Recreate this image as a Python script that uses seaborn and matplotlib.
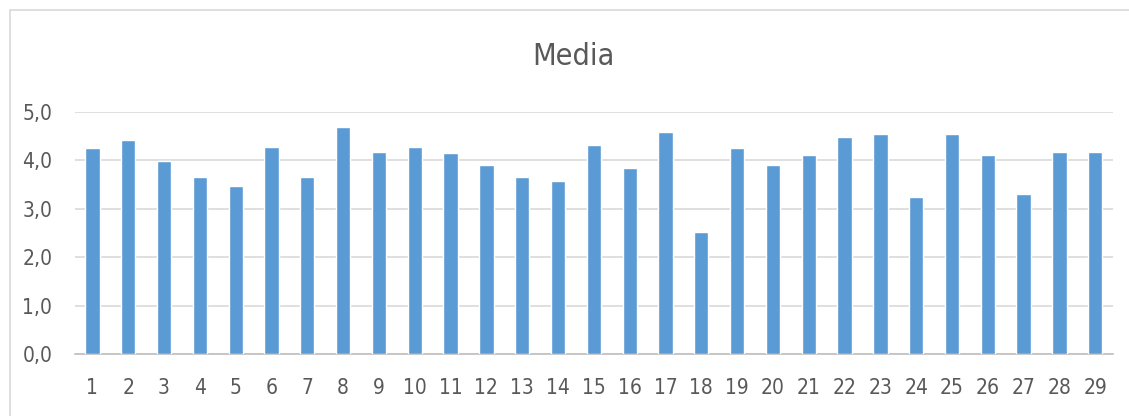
import matplotlib
matplotlib.use("Agg")
import matplotlib.pyplot as plt
import seaborn as sns
import pandas as pd
from matplotlib.patches import Rectangle

# Datos
items = [str(i) for i in range(1, 30)]
media = [4.25, 4.41, 3.98, 3.65, 3.48, 4.28, 3.65, 4.68, 4.18, 4.28,
         4.15, 3.91, 3.65, 3.58, 4.31, 3.84, 4.58, 2.52, 4.25, 3.91,
         4.11, 4.48, 4.55, 3.25, 4.55, 4.11, 3.31, 4.18, 4.18]
yticks = [0, 1, 2, 3, 4, 5]
ytick_labels = ["0,0", "1,0", "2,0", "3,0", "4,0", "5,0"]

df = pd.DataFrame({"item": items, "media": media})

sns.set_style("white")
plt.rcParams['font.family'] = ['DejaVu Sans']
plt.rcParams['font.stretch'] = 'condensed'

fig = plt.figure(figsize=(11.29, 4.16), dpi=100)
ax = fig.add_axes([0.066, 0.149, 0.92, 0.582])

# marco del grafico
fig.patches.append(Rectangle((10 / 1129, -0.1), 1.2, 1 - 10 / 416 + 0.1,
                             transform=fig.transFigure, fill=False,
                             edgecolor="#D9D9D9", linewidth=1.2))

sns.barplot(data=df, x="item", y="media", color="#5B9BD5", width=0.4,
            saturation=1, ax=ax, zorder=3)

ax.set_ylim(0, 5)
ax.set_xlim(-0.5, len(items) - 0.5)
ax.set_yticks(yticks)
ax.set_yticklabels(ytick_labels)
ax.grid(axis="y", color="#D9D9D9", linewidth=1.2, zorder=0)
ax.set_axisbelow(True)
for s in ["top", "right", "left"]:
    ax.spines[s].set_visible(False)
ax.spines["bottom"].set_color("#BFBFBF")
ax.spines["bottom"].set_linewidth(1.2)
ax.tick_params(axis="both", length=0, labelsize=15, colors="#595959")
ax.tick_params(axis="x", pad=17)
ax.tick_params(axis="y", pad=16)
ax.set_xlabel("")
ax.set_ylabel("")

fig.text(0.508, 0.865, "Media", ha="center", va="center", fontsize=22,
         color="#595959")

fig.savefig("out.png", dpi=100)
